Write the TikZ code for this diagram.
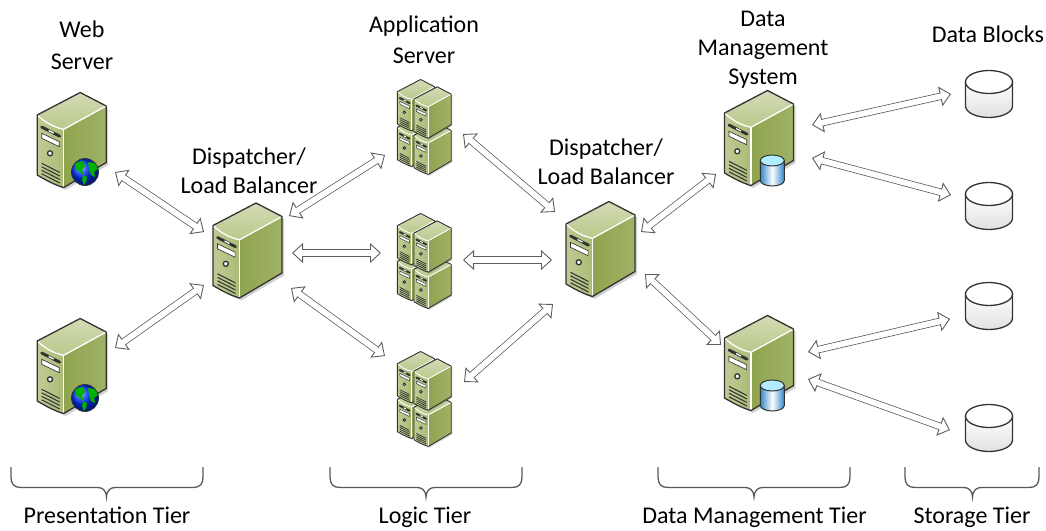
\documentclass[tikz,border=0pt]{standalone}
\usepackage{fontspec}
\setmainfont{Carlito}
\usetikzlibrary{arrows.meta,shapes.geometric,calc}
\definecolor{edgedark}{HTML}{333333}
\definecolor{faceleft}{HTML}{C0CB94}
\definecolor{faceleftb}{HTML}{ABBB76}
\definecolor{facetop}{HTML}{D3DBB4}
\definecolor{facetopb}{HTML}{BAC88C}
\definecolor{faceright}{HTML}{A0B266}
\definecolor{facerightb}{HTML}{8FA44F}
\definecolor{connedge}{HTML}{5E5E5E}
\definecolor{braceline}{HTML}{595959}
\tikzset{
  hub/.style={rectangle,inner sep=0pt,minimum width=69pt,minimum height=95pt},
  quadhub/.style={rectangle,inner sep=0pt,minimum width=54pt,minimum height=98pt},
  diskhub/.style={rectangle,inner sep=0pt,minimum width=47pt,minimum height=47pt},
  lbl/.style={font=\fontsize{24}{29}\selectfont,align=center,text=black,inner sep=0pt},
  tierlbl/.style={lbl,anchor=base},
  conn/.style={draw=connedge,line width=.9pt,double=white,double distance=5.5pt,
    {Stealth[length=11pt,width=20pt,inset=0pt,fill=white,line width=.9pt]}-{Stealth[length=11pt,width=20pt,inset=0pt,fill=white,line width=.9pt]},
    postaction={draw=white,double=none,line width=5.5pt,-,shorten <=9.5pt,shorten >=9.5pt}},
  tierbrace/.style={draw=braceline,line width=1.3pt},
}
\def\TW{1.3pt}
\newcommand{\towershape}{%
    \fill[black,opacity=.18] (-33,-22) -- (10,-45) -- (36.5,-31.5) -- (36.5,25) -- (-6,50) -- (-32,37) -- cycle;
    \path[left color=facerightb,right color=faceright,draw=none]
      (-8,-10.7) -- (34.5,-34) -- (34.5,22.5) -- (-8,47.5) -- cycle;
    \path[left color=faceleft,right color=faceleftb,draw=none]
      (-34.5,-25) .. controls (-26,-17) and (-17,-12.5) .. (-8,-10.7) -- (-8,47.5) .. controls (-17,45) and (-26,40) .. (-34.5,35) -- cycle;
    \path[bottom color=facetopb,top color=facetop,draw=none]
      (-34.5,-25) -- (8.5,-47.5) -- (34.5,-34) -- (-8,-10.7) .. controls (-17,-12.5) and (-26,-17) .. (-34.5,-25) -- cycle;
    \draw[white,line width=\TW] (-34.5,-25) .. controls (-26,-17) and (-17,-12.5) .. (-8,-10.7) -- (34.5,-34);
    \draw[white,line width=\TW] (-8,-10.7) -- (-8,47.5);
    \draw[edgedark,line width=\TW,line join=round]
      (-34.5,-25) -- (8.5,-47.5) -- (34.5,-34) -- (34.5,22.5) -- (-8,47.5)
      .. controls (-17,45) and (-26,40) .. (-34.5,35) -- cycle;
    \draw[edgedark,line width=2.2*\TW,line cap=round] (-30,-13) -- (-12,-3.8);
    \draw[white,line width=\TW] (-23,-9.5) -- (-18,-7);
    \fill[white,draw=edgedark,line width=.5*\TW] (-30,-6.7) -- (-12.4,1.7) -- (-12.4,6.7) -- (-30,-1.7) -- cycle;
    \draw[edgedark,fill=white,line width=\TW] (-21.7,13.3) circle[radius=2.5pt];
    \foreach \g in {0,3.5,7,10.5}
      \draw[edgedark,line width=.8*\TW] (-30,23.3+\g) -- (-12,32.5+\g);
}
\newcommand{\globeshape}{%
    \shade[ball color=blue!80!cyan] (0,0) circle[radius=13.5pt];
    \begin{scope}
      \clip (0,0) circle[radius=13.5pt];
      \fill[green!70!black] (-10,-9) -- (-2,-11) -- (0,-6) -- (-3,-2) -- (-1,3) -- (-4,1) -- (-9,-3) -- cycle;
      \fill[green!70!black] (-2,3) -- (2,5) -- (1,10) -- (-1,13) -- (-3,8) -- cycle;
      \fill[green!70!black] (3,-10) -- (11,-9) -- (13,-3) -- (9,0) -- (10,5) -- (6,3) -- (4,-3) -- cycle;
    \end{scope}
    \draw[edgedark,line width=.8pt] (0,0) circle[radius=13.5pt];
}
\newcommand{\cylshape}{%
    \path[left color=blue!45!cyan!60!gray,right color=blue!45!cyan!60!gray,middle color=white,draw=edgedark,line width=1pt]
      (-12,-10) -- (-12,10) arc[start angle=180,end angle=360,x radius=12pt,y radius=5.5pt] -- (12,-10) -- cycle;
    \draw[edgedark,fill=blue!25!cyan!30!white,line width=1pt] (0,-10) ellipse[x radius=12pt,y radius=5.5pt];
}
\newcommand{\diskshape}{%
    \path[top color=white,bottom color=black!12,draw=edgedark,line width=1.3pt]
      (-23.5,-12) -- (-23.5,12) arc[start angle=180,end angle=360,x radius=23.5pt,y radius=11.5pt] -- (23.5,-12) -- cycle;
    \draw[edgedark,fill=white,line width=1.3pt] (0,-12) ellipse[x radius=23.5pt,y radius=11.5pt];
}
\newcommand{\tiercurly}[3]{%
  \draw[tierbrace] (#1,467) -- (#1,477) .. controls (#1,484) and (#1+3,487.5) .. (#1+10,487.5)
    -- (#2-9,487.5) .. controls (#2-4,487.5) and (#2-0.5,490) .. (#2,497) .. controls (#2+0.5,490) and (#2+4,487.5) .. (#2+9,487.5)
    -- (#3-10,487.5) .. controls (#3-3,487.5) and (#3,484) .. (#3,477) -- (#3,467);}
\begin{document}
\begin{tikzpicture}[x=1pt,y=-1pt]
\useasboundingbox (0,0) rectangle (1046,530);
% servers
\node[hub] (web1) at (71.7,140) {};
\node[hub] (web2) at (71.7,366) {};
\node[hub] (lb1) at (247.5,250.5) {};
\node[hub] (lb2) at (600.5,249) {};
\node[hub] (dm1) at (759,138) {};
\node[hub] (dm2) at (759,363) {};
\node[quadhub] (app1) at (425,126) {};
\node[quadhub] (app2) at (425,260) {};
\node[quadhub] (app3) at (425,398) {};
\node[diskhub] (d1) at (989,94) {};
\node[diskhub] (d2) at (989,206) {};
\node[diskhub] (d3) at (989,306) {};
\node[diskhub] (d4) at (989,428) {};
\foreach \n in {web1,web2,lb1,lb2,dm1,dm2} {\begin{scope}[shift={(\n.center)}]\towershape\end{scope}}
\foreach \n in {web1,web2} {\begin{scope}[shift={($(\n.center)+(13.3,32)$)}]\globeshape\end{scope}}
\foreach \n in {dm1,dm2} {\begin{scope}[shift={($(\n.center)+(13.3,32.5)$)}]\cylshape\end{scope}}
\def\TW{.9pt}
\foreach \n in {app1,app2,app3} {
  \foreach \dx/\dy in {-9/14.8,7.6/22.8,-9/-20.9,7.6/-13.5} {
    \begin{scope}[shift={($(\n.center)+(\dx,\dy)$)},scale=.54]\towershape\end{scope}
  }
}
\foreach \n in {d1,d2,d3,d4} {\begin{scope}[shift={(\n.center)}]\diskshape\end{scope}}
% connectors
\draw[conn] ([shift={(43.3,32)}]web1.center) -- ([shift={(-43.5,-18.5)}]lb1.center);
\draw[conn] ([shift={(43.3,-18)}]web2.center) -- ([shift={(-43.5,34.5)}]lb1.center);
\draw[conn] ([shift={(41.5,-34.5)}]lb1.center) -- ([shift={(-40,29)}]app1.center);
\draw[conn] ([shift={(44.5,2.5)}]lb1.center) -- ([shift={(-44,-7)}]app2.center);
\draw[conn] ([shift={(43.5,37.5)}]lb1.center) -- ([shift={(-40,-42)}]app3.center);
\draw[conn] ([shift={(38,8)}]app1.center) -- ([shift={(-45.5,-37)}]lb2.center);
\draw[conn] ([shift={(38,0)}]app2.center) -- ([shift={(-48.5,11)}]lb2.center);
\draw[conn] ([shift={(39,-16)}]app3.center) -- ([shift={(-47.5,55)}]lb2.center);
\draw[conn] ([shift={(40.5,-17)}]lb2.center) -- ([shift={(-43,36)}]dm1.center);
\draw[conn] ([shift={(44.5,25)}]lb2.center) -- ([shift={(-38,-18)}]dm2.center);
\draw[conn] ([shift={(53,-13)}]dm1.center) -- ([shift={(-38,0)}]d1.center);
\draw[conn] ([shift={(53,20)}]dm1.center) -- ([shift={(-38,-11)}]d2.center);
\draw[conn] ([shift={(49,-11)}]dm2.center) -- ([shift={(-39,13)}]d3.center);
\draw[conn] ([shift={(49,16)}]dm2.center) -- ([shift={(-39,2)}]d4.center);
% labels
\node[lbl] (tweb) at (82,45) {Web\\[3pt]Server};
\node[lbl] (tlb1) at (249,171) {Dispatcher/\\Load Balancer};
\node[lbl] (tapp) at (424,40) {Application\\[2pt]Server};
\node[lbl] (tlb2) at (606,162) {Dispatcher/\\Load Balancer};
\node[lbl] (tdm) at (763,50) {Data\\Management\\System};
\node[lbl,anchor=base] (tdb) at (988,42) {Data Blocks};
\node[tierlbl] (tp) at (107,523) {Presentation Tier};
\node[tierlbl] (tl) at (425,523) {Logic Tier};
\node[tierlbl] (tm) at (754.5,523) {Data Management Tier};
\node[tierlbl] (ts) at (972,523) {Storage Tier};
% braces
\tiercurly{11}{106.5}{203}
\tiercurly{330}{426}{522}
\tiercurly{658}{754}{850}
\tiercurly{905}{972.5}{1039}
\end{tikzpicture}
\end{document}
